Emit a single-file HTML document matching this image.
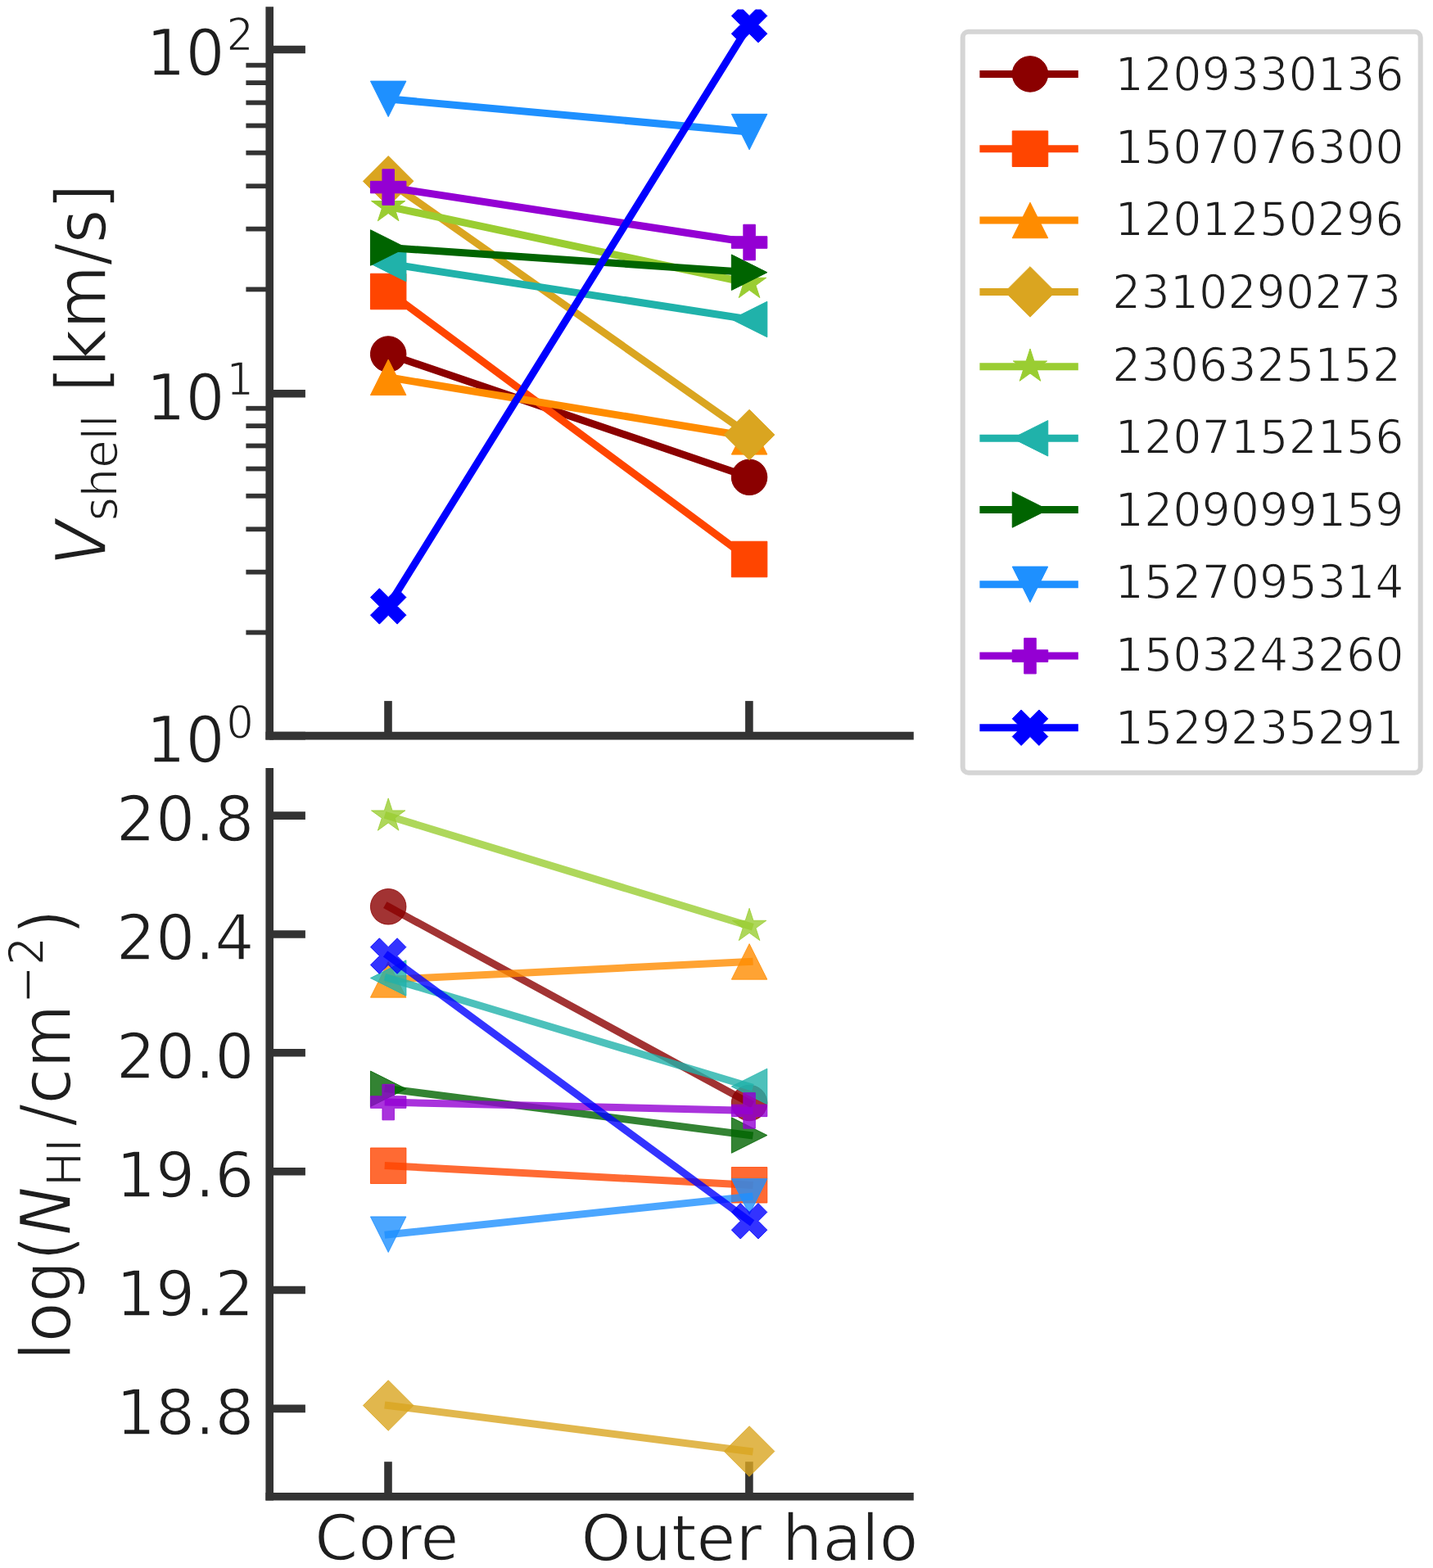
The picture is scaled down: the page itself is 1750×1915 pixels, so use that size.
<!DOCTYPE html>
<html><head><meta charset="utf-8"><title>V_shell and log N_HI: core vs outer halo</title>
<style>html,body{margin:0;padding:0;background:#fff;width:1750px;height:1915px;overflow:hidden}svg{display:block}</style>
</head><body>
<svg width="1750" height="1915" viewBox="0 0 1750 1915">
<rect x="0" y="0" width="1750" height="1915" fill="#ffffff"/>
<defs><clipPath id="c1"><rect x="329.2" y="11.5" width="781.8" height="887.1"/></clipPath><clipPath id="c2"><rect x="329.2" y="942.7" width="781.8" height="885"/></clipPath></defs>
<line x1="329.2" y1="60.5" x2="372.9" y2="60.5" stroke="#333333" stroke-width="9.6" stroke-linecap="butt"/>
<line x1="329.2" y1="480.7" x2="372.9" y2="480.7" stroke="#333333" stroke-width="9.6" stroke-linecap="butt"/>
<line x1="329.2" y1="898.6" x2="372.9" y2="898.6" stroke="#333333" stroke-width="9.6" stroke-linecap="butt"/>
<line x1="329.2" y1="772.453" x2="300.4" y2="772.453" stroke="#333333" stroke-width="5.8" stroke-linecap="butt"/>
<line x1="329.2" y1="698.662" x2="300.4" y2="698.662" stroke="#333333" stroke-width="5.8" stroke-linecap="butt"/>
<line x1="329.2" y1="646.307" x2="300.4" y2="646.307" stroke="#333333" stroke-width="5.8" stroke-linecap="butt"/>
<line x1="329.2" y1="605.697" x2="300.4" y2="605.697" stroke="#333333" stroke-width="5.8" stroke-linecap="butt"/>
<line x1="329.2" y1="572.516" x2="300.4" y2="572.516" stroke="#333333" stroke-width="5.8" stroke-linecap="butt"/>
<line x1="329.2" y1="544.462" x2="300.4" y2="544.462" stroke="#333333" stroke-width="5.8" stroke-linecap="butt"/>
<line x1="329.2" y1="520.16" x2="300.4" y2="520.16" stroke="#333333" stroke-width="5.8" stroke-linecap="butt"/>
<line x1="329.2" y1="498.725" x2="300.4" y2="498.725" stroke="#333333" stroke-width="5.8" stroke-linecap="butt"/>
<line x1="329.2" y1="353.403" x2="300.4" y2="353.403" stroke="#333333" stroke-width="5.8" stroke-linecap="butt"/>
<line x1="329.2" y1="279.612" x2="300.4" y2="279.612" stroke="#333333" stroke-width="5.8" stroke-linecap="butt"/>
<line x1="329.2" y1="227.257" x2="300.4" y2="227.257" stroke="#333333" stroke-width="5.8" stroke-linecap="butt"/>
<line x1="329.2" y1="186.647" x2="300.4" y2="186.647" stroke="#333333" stroke-width="5.8" stroke-linecap="butt"/>
<line x1="329.2" y1="153.466" x2="300.4" y2="153.466" stroke="#333333" stroke-width="5.8" stroke-linecap="butt"/>
<line x1="329.2" y1="125.412" x2="300.4" y2="125.412" stroke="#333333" stroke-width="5.8" stroke-linecap="butt"/>
<line x1="329.2" y1="101.11" x2="300.4" y2="101.11" stroke="#333333" stroke-width="5.8" stroke-linecap="butt"/>
<line x1="329.2" y1="79.675" x2="300.4" y2="79.675" stroke="#333333" stroke-width="5.8" stroke-linecap="butt"/>
<line x1="329.2" y1="996.1" x2="372.9" y2="996.1" stroke="#333333" stroke-width="9.6" stroke-linecap="butt"/>
<line x1="329.2" y1="1140.96" x2="372.9" y2="1140.96" stroke="#333333" stroke-width="9.6" stroke-linecap="butt"/>
<line x1="329.2" y1="1285.8" x2="372.9" y2="1285.8" stroke="#333333" stroke-width="9.6" stroke-linecap="butt"/>
<line x1="329.2" y1="1430.7" x2="372.9" y2="1430.7" stroke="#333333" stroke-width="9.6" stroke-linecap="butt"/>
<line x1="329.2" y1="1575.5" x2="372.9" y2="1575.5" stroke="#333333" stroke-width="9.6" stroke-linecap="butt"/>
<line x1="329.2" y1="1720.4" x2="372.9" y2="1720.4" stroke="#333333" stroke-width="9.6" stroke-linecap="butt"/>
<line x1="474" y1="898.6" x2="474" y2="856.1" stroke="#333333" stroke-width="9.6" stroke-linecap="butt"/>
<line x1="914.9" y1="898.6" x2="914.9" y2="856.1" stroke="#333333" stroke-width="9.6" stroke-linecap="butt"/>
<line x1="474" y1="1827.7" x2="474" y2="1785.2" stroke="#333333" stroke-width="9.6" stroke-linecap="butt"/>
<line x1="914.9" y1="1827.7" x2="914.9" y2="1785.2" stroke="#333333" stroke-width="9.6" stroke-linecap="butt"/>
<g clip-path="url(#c1)">
<line x1="474.2" y1="432.5" x2="915.1" y2="582.8" stroke="#8b0000" stroke-width="9" stroke-linecap="square" stroke-linejoin="round"/>
</g>
<g clip-path="url(#c1)">
<circle cx="474.2" cy="432.5" r="21.75" fill="#8b0000" stroke="#8b0000" stroke-width="1.0"/>
<circle cx="915.1" cy="582.8" r="21.75" fill="#8b0000" stroke="#8b0000" stroke-width="1.0"/>
</g>
<g clip-path="url(#c1)">
<line x1="474.2" y1="356" x2="915.1" y2="683" stroke="#ff4500" stroke-width="9" stroke-linecap="square" stroke-linejoin="round"/>
</g>
<g clip-path="url(#c1)">
<path d="M452.45 334.25 L495.95 334.25 L495.95 377.75 L452.45 377.75 Z" fill="#ff4500" stroke="#ff4500" stroke-width="1.0" stroke-linejoin="miter"/>
<path d="M893.35 661.25 L936.85 661.25 L936.85 704.75 L893.35 704.75 Z" fill="#ff4500" stroke="#ff4500" stroke-width="1.0" stroke-linejoin="miter"/>
</g>
<g clip-path="url(#c1)">
<line x1="474.2" y1="460.8" x2="915.1" y2="533.3" stroke="#ff8c00" stroke-width="9" stroke-linecap="square" stroke-linejoin="round"/>
</g>
<g clip-path="url(#c1)">
<path d="M474.2 439.05 L452.45 482.55 L495.95 482.55 Z" fill="#ff8c00" stroke="#ff8c00" stroke-width="1.0" stroke-linejoin="miter"/>
<path d="M915.1 511.55 L893.35 555.05 L936.85 555.05 Z" fill="#ff8c00" stroke="#ff8c00" stroke-width="1.0" stroke-linejoin="miter"/>
</g>
<g clip-path="url(#c1)">
<line x1="474.2" y1="221.3" x2="915.1" y2="531" stroke="#daa520" stroke-width="9" stroke-linecap="square" stroke-linejoin="round"/>
</g>
<g clip-path="url(#c1)">
<path d="M474.2 190.541 L504.959 221.3 L474.2 252.059 L443.441 221.3 Z" fill="#daa520" stroke="#daa520" stroke-width="1.0" stroke-linejoin="miter"/>
<path d="M915.1 500.241 L945.859 531 L915.1 561.759 L884.341 531 Z" fill="#daa520" stroke="#daa520" stroke-width="1.0" stroke-linejoin="miter"/>
</g>
<g clip-path="url(#c1)">
<line x1="474.2" y1="252.2" x2="915.1" y2="346" stroke="#9acd32" stroke-width="9" stroke-linecap="square" stroke-linejoin="round"/>
</g>
<g clip-path="url(#c1)">
<path d="M474.2 230.45 L469.317 245.479 L453.515 245.479 L466.299 254.767 L461.416 269.796 L474.2 260.508 L486.984 269.796 L482.101 254.767 L494.885 245.479 L479.083 245.479 Z" fill="#9acd32" stroke="#9acd32" stroke-width="1.0" stroke-linejoin="bevel"/>
<path d="M915.1 324.25 L910.217 339.279 L894.415 339.279 L907.199 348.567 L902.316 363.596 L915.1 354.308 L927.884 363.596 L923.001 348.567 L935.785 339.279 L919.983 339.279 Z" fill="#9acd32" stroke="#9acd32" stroke-width="1.0" stroke-linejoin="bevel"/>
</g>
<g clip-path="url(#c1)">
<line x1="474.2" y1="322" x2="915.1" y2="390" stroke="#20b2aa" stroke-width="9" stroke-linecap="square" stroke-linejoin="round"/>
</g>
<g clip-path="url(#c1)">
<path d="M452.45 322 L495.95 300.25 L495.95 343.75 Z" fill="#20b2aa" stroke="#20b2aa" stroke-width="1.0" stroke-linejoin="miter"/>
<path d="M893.35 390 L936.85 368.25 L936.85 411.75 Z" fill="#20b2aa" stroke="#20b2aa" stroke-width="1.0" stroke-linejoin="miter"/>
</g>
<g clip-path="url(#c1)">
<line x1="474.2" y1="302.5" x2="915.1" y2="332.7" stroke="#006400" stroke-width="9" stroke-linecap="square" stroke-linejoin="round"/>
</g>
<g clip-path="url(#c1)">
<path d="M495.95 302.5 L452.45 280.75 L452.45 324.25 Z" fill="#006400" stroke="#006400" stroke-width="1.0" stroke-linejoin="miter"/>
<path d="M936.85 332.7 L893.35 310.95 L893.35 354.45 Z" fill="#006400" stroke="#006400" stroke-width="1.0" stroke-linejoin="miter"/>
</g>
<g clip-path="url(#c1)">
<line x1="474.2" y1="120.85" x2="915.1" y2="161.1" stroke="#1e90ff" stroke-width="9" stroke-linecap="square" stroke-linejoin="round"/>
</g>
<g clip-path="url(#c1)">
<path d="M474.2 142.6 L452.45 99.1 L495.95 99.1 Z" fill="#1e90ff" stroke="#1e90ff" stroke-width="1.0" stroke-linejoin="miter"/>
<path d="M915.1 182.85 L893.35 139.35 L936.85 139.35 Z" fill="#1e90ff" stroke="#1e90ff" stroke-width="1.0" stroke-linejoin="miter"/>
</g>
<g clip-path="url(#c1)">
<line x1="474.2" y1="228.6" x2="915.1" y2="296" stroke="#9400d3" stroke-width="9" stroke-linecap="square" stroke-linejoin="round"/>
</g>
<g clip-path="url(#c1)">
<path d="M466.95 206.85 L481.45 206.85 L481.45 221.35 L495.95 221.35 L495.95 235.85 L481.45 235.85 L481.45 250.35 L466.95 250.35 L466.95 235.85 L452.45 235.85 L452.45 221.35 L466.95 221.35 Z" fill="#9400d3" stroke="#9400d3" stroke-width="1.0" stroke-linejoin="miter"/>
<path d="M907.85 274.25 L922.35 274.25 L922.35 288.75 L936.85 288.75 L936.85 303.25 L922.35 303.25 L922.35 317.75 L907.85 317.75 L907.85 303.25 L893.35 303.25 L893.35 288.75 L907.85 288.75 Z" fill="#9400d3" stroke="#9400d3" stroke-width="1.0" stroke-linejoin="miter"/>
</g>
<g clip-path="url(#c1)">
<line x1="474.2" y1="740.4" x2="915.1" y2="30.3" stroke="#0000ff" stroke-width="9" stroke-linecap="square" stroke-linejoin="round"/>
</g>
<g clip-path="url(#c1)">
<path d="M463.325 718.65 L474.2 729.525 L485.075 718.65 L495.95 729.525 L485.075 740.4 L495.95 751.275 L485.075 762.15 L474.2 751.275 L463.325 762.15 L452.45 751.275 L463.325 740.4 L452.45 729.525 Z" fill="#0000ff" stroke="#0000ff" stroke-width="1.0" stroke-linejoin="miter"/>
<path d="M904.225 8.55 L915.1 19.425 L925.975 8.55 L936.85 19.425 L925.975 30.3 L936.85 41.175 L925.975 52.05 L915.1 41.175 L904.225 52.05 L893.35 41.175 L904.225 30.3 L893.35 19.425 Z" fill="#0000ff" stroke="#0000ff" stroke-width="1.0" stroke-linejoin="miter"/>
</g>
<g clip-path="url(#c2)">
<line x1="474.2" y1="1107.3" x2="915.1" y2="1347" stroke="#8b0000" stroke-width="9" stroke-linecap="square" stroke-opacity="0.8" stroke-linejoin="round"/>
</g>
<g clip-path="url(#c2)">
<circle cx="474.2" cy="1107.3" r="21.75" fill="#8b0000" stroke="#8b0000" stroke-width="1.0" fill-opacity="0.8" stroke-opacity="0.8"/>
<circle cx="915.1" cy="1347" r="21.75" fill="#8b0000" stroke="#8b0000" stroke-width="1.0" fill-opacity="0.8" stroke-opacity="0.8"/>
</g>
<g clip-path="url(#c2)">
<line x1="474.2" y1="1423.7" x2="915.1" y2="1447.3" stroke="#ff4500" stroke-width="9" stroke-linecap="square" stroke-opacity="0.8" stroke-linejoin="round"/>
</g>
<g clip-path="url(#c2)">
<path d="M452.45 1401.95 L495.95 1401.95 L495.95 1445.45 L452.45 1445.45 Z" fill="#ff4500" stroke="#ff4500" stroke-width="1.0" stroke-linejoin="miter" fill-opacity="0.8" stroke-opacity="0.8"/>
<path d="M893.35 1425.55 L936.85 1425.55 L936.85 1469.05 L893.35 1469.05 Z" fill="#ff4500" stroke="#ff4500" stroke-width="1.0" stroke-linejoin="miter" fill-opacity="0.8" stroke-opacity="0.8"/>
</g>
<g clip-path="url(#c2)">
<line x1="474.2" y1="1196.4" x2="915.1" y2="1174.4" stroke="#ff8c00" stroke-width="9" stroke-linecap="square" stroke-opacity="0.8" stroke-linejoin="round"/>
</g>
<g clip-path="url(#c2)">
<path d="M474.2 1174.65 L452.45 1218.15 L495.95 1218.15 Z" fill="#ff8c00" stroke="#ff8c00" stroke-width="1.0" stroke-linejoin="miter" fill-opacity="0.8" stroke-opacity="0.8"/>
<path d="M915.1 1152.65 L893.35 1196.15 L936.85 1196.15 Z" fill="#ff8c00" stroke="#ff8c00" stroke-width="1.0" stroke-linejoin="miter" fill-opacity="0.8" stroke-opacity="0.8"/>
</g>
<g clip-path="url(#c2)">
<line x1="474.2" y1="1716.5" x2="915.1" y2="1772.5" stroke="#daa520" stroke-width="9" stroke-linecap="square" stroke-opacity="0.8" stroke-linejoin="round"/>
</g>
<g clip-path="url(#c2)">
<path d="M474.2 1685.741 L504.959 1716.5 L474.2 1747.259 L443.441 1716.5 Z" fill="#daa520" stroke="#daa520" stroke-width="1.0" stroke-linejoin="miter" fill-opacity="0.8" stroke-opacity="0.8"/>
<path d="M915.1 1741.741 L945.859 1772.5 L915.1 1803.259 L884.341 1772.5 Z" fill="#daa520" stroke="#daa520" stroke-width="1.0" stroke-linejoin="miter" fill-opacity="0.8" stroke-opacity="0.8"/>
</g>
<g clip-path="url(#c2)">
<line x1="474.2" y1="996.6" x2="915.1" y2="1131" stroke="#9acd32" stroke-width="9" stroke-linecap="square" stroke-opacity="0.8" stroke-linejoin="round"/>
</g>
<g clip-path="url(#c2)">
<path d="M474.2 974.85 L469.317 989.879 L453.515 989.879 L466.299 999.167 L461.416 1014.196 L474.2 1004.908 L486.984 1014.196 L482.101 999.167 L494.885 989.879 L479.083 989.879 Z" fill="#9acd32" stroke="#9acd32" stroke-width="1.0" stroke-linejoin="bevel" fill-opacity="0.8" stroke-opacity="0.8"/>
<path d="M915.1 1109.25 L910.217 1124.279 L894.415 1124.279 L907.199 1133.567 L902.316 1148.596 L915.1 1139.308 L927.884 1148.596 L923.001 1133.567 L935.785 1124.279 L919.983 1124.279 Z" fill="#9acd32" stroke="#9acd32" stroke-width="1.0" stroke-linejoin="bevel" fill-opacity="0.8" stroke-opacity="0.8"/>
</g>
<g clip-path="url(#c2)">
<line x1="474.2" y1="1194.5" x2="915.1" y2="1326.9" stroke="#20b2aa" stroke-width="9" stroke-linecap="square" stroke-opacity="0.8" stroke-linejoin="round"/>
</g>
<g clip-path="url(#c2)">
<path d="M452.45 1194.5 L495.95 1172.75 L495.95 1216.25 Z" fill="#20b2aa" stroke="#20b2aa" stroke-width="1.0" stroke-linejoin="miter" fill-opacity="0.8" stroke-opacity="0.8"/>
<path d="M893.35 1326.9 L936.85 1305.15 L936.85 1348.65 Z" fill="#20b2aa" stroke="#20b2aa" stroke-width="1.0" stroke-linejoin="miter" fill-opacity="0.8" stroke-opacity="0.8"/>
</g>
<g clip-path="url(#c2)">
<line x1="474.2" y1="1329.8" x2="915.1" y2="1386.5" stroke="#006400" stroke-width="9" stroke-linecap="square" stroke-opacity="0.8" stroke-linejoin="round"/>
</g>
<g clip-path="url(#c2)">
<path d="M495.95 1329.8 L452.45 1308.05 L452.45 1351.55 Z" fill="#006400" stroke="#006400" stroke-width="1.0" stroke-linejoin="miter" fill-opacity="0.8" stroke-opacity="0.8"/>
<path d="M936.85 1386.5 L893.35 1364.75 L893.35 1408.25 Z" fill="#006400" stroke="#006400" stroke-width="1.0" stroke-linejoin="miter" fill-opacity="0.8" stroke-opacity="0.8"/>
</g>
<g clip-path="url(#c2)">
<line x1="474.2" y1="1507.7" x2="915.1" y2="1461.4" stroke="#1e90ff" stroke-width="9" stroke-linecap="square" stroke-opacity="0.8" stroke-linejoin="round"/>
</g>
<g clip-path="url(#c2)">
<path d="M474.2 1529.45 L452.45 1485.95 L495.95 1485.95 Z" fill="#1e90ff" stroke="#1e90ff" stroke-width="1.0" stroke-linejoin="miter" fill-opacity="0.8" stroke-opacity="0.8"/>
<path d="M915.1 1483.15 L893.35 1439.65 L936.85 1439.65 Z" fill="#1e90ff" stroke="#1e90ff" stroke-width="1.0" stroke-linejoin="miter" fill-opacity="0.8" stroke-opacity="0.8"/>
</g>
<g clip-path="url(#c2)">
<line x1="474.2" y1="1346.1" x2="915.1" y2="1356.4" stroke="#9400d3" stroke-width="9" stroke-linecap="square" stroke-opacity="0.8" stroke-linejoin="round"/>
</g>
<g clip-path="url(#c2)">
<path d="M466.95 1324.35 L481.45 1324.35 L481.45 1338.85 L495.95 1338.85 L495.95 1353.35 L481.45 1353.35 L481.45 1367.85 L466.95 1367.85 L466.95 1353.35 L452.45 1353.35 L452.45 1338.85 L466.95 1338.85 Z" fill="#9400d3" stroke="#9400d3" stroke-width="1.0" stroke-linejoin="miter" fill-opacity="0.8" stroke-opacity="0.8"/>
<path d="M907.85 1334.65 L922.35 1334.65 L922.35 1349.15 L936.85 1349.15 L936.85 1363.65 L922.35 1363.65 L922.35 1378.15 L907.85 1378.15 L907.85 1363.65 L893.35 1363.65 L893.35 1349.15 L907.85 1349.15 Z" fill="#9400d3" stroke="#9400d3" stroke-width="1.0" stroke-linejoin="miter" fill-opacity="0.8" stroke-opacity="0.8"/>
</g>
<g clip-path="url(#c2)">
<line x1="474.2" y1="1167.5" x2="915.1" y2="1491.3" stroke="#0000ff" stroke-width="9" stroke-linecap="square" stroke-opacity="0.8" stroke-linejoin="round"/>
</g>
<g clip-path="url(#c2)">
<path d="M463.325 1145.75 L474.2 1156.625 L485.075 1145.75 L495.95 1156.625 L485.075 1167.5 L495.95 1178.375 L485.075 1189.25 L474.2 1178.375 L463.325 1189.25 L452.45 1178.375 L463.325 1167.5 L452.45 1156.625 Z" fill="#0000ff" stroke="#0000ff" stroke-width="1.0" stroke-linejoin="miter" fill-opacity="0.8" stroke-opacity="0.8"/>
<path d="M904.225 1469.55 L915.1 1480.425 L925.975 1469.55 L936.85 1480.425 L925.975 1491.3 L936.85 1502.175 L925.975 1513.05 L915.1 1502.175 L904.225 1513.05 L893.35 1502.175 L904.225 1491.3 L893.35 1480.425 Z" fill="#0000ff" stroke="#0000ff" stroke-width="1.0" stroke-linejoin="miter" fill-opacity="0.8" stroke-opacity="0.8"/>
</g>
<line x1="329.2" y1="13" x2="329.2" y2="898.6" stroke="#333333" stroke-width="9.6" stroke-linecap="square"/>
<line x1="329.2" y1="898.6" x2="1111" y2="898.6" stroke="#333333" stroke-width="9.6" stroke-linecap="square"/>
<line x1="329.2" y1="942.7" x2="329.2" y2="1827.7" stroke="#333333" stroke-width="9.6" stroke-linecap="square"/>
<line x1="329.2" y1="1827.7" x2="1111" y2="1827.7" stroke="#333333" stroke-width="9.6" stroke-linecap="square"/>
<rect x="1175.7" y="38.7" width="559" height="905.1" rx="7" ry="7" fill="#ffffff" stroke="#d5d5d5" stroke-width="6"/>
<line x1="1200.9" y1="90.4" x2="1312.3" y2="90.4" stroke="#8b0000" stroke-width="9" stroke-linecap="square"/>
<circle cx="1258" cy="90.4" r="21.75" fill="#8b0000" stroke="#8b0000" stroke-width="1.0"/>
<line x1="1200.9" y1="181.7" x2="1312.3" y2="181.7" stroke="#ff4500" stroke-width="9" stroke-linecap="square"/>
<path d="M1236.25 159.95 L1279.75 159.95 L1279.75 203.45 L1236.25 203.45 Z" fill="#ff4500" stroke="#ff4500" stroke-width="1.0" stroke-linejoin="miter"/>
<line x1="1200.9" y1="269" x2="1312.3" y2="269" stroke="#ff8c00" stroke-width="9" stroke-linecap="square"/>
<path d="M1258 247.25 L1236.25 290.75 L1279.75 290.75 Z" fill="#ff8c00" stroke="#ff8c00" stroke-width="1.0" stroke-linejoin="miter"/>
<line x1="1200.9" y1="356.4" x2="1312.3" y2="356.4" stroke="#daa520" stroke-width="9" stroke-linecap="square"/>
<path d="M1258 325.641 L1288.759 356.4 L1258 387.159 L1227.241 356.4 Z" fill="#daa520" stroke="#daa520" stroke-width="1.0" stroke-linejoin="miter"/>
<line x1="1200.9" y1="447.7" x2="1312.3" y2="447.7" stroke="#9acd32" stroke-width="9" stroke-linecap="square"/>
<path d="M1258 425.95 L1253.117 440.979 L1237.315 440.979 L1250.099 450.267 L1245.216 465.296 L1258 456.008 L1270.784 465.296 L1265.901 450.267 L1278.685 440.979 L1262.883 440.979 Z" fill="#9acd32" stroke="#9acd32" stroke-width="1.0" stroke-linejoin="bevel"/>
<line x1="1200.9" y1="535.3" x2="1312.3" y2="535.3" stroke="#20b2aa" stroke-width="9" stroke-linecap="square"/>
<path d="M1236.25 535.3 L1279.75 513.55 L1279.75 557.05 Z" fill="#20b2aa" stroke="#20b2aa" stroke-width="1.0" stroke-linejoin="miter"/>
<line x1="1200.9" y1="622.5" x2="1312.3" y2="622.5" stroke="#006400" stroke-width="9" stroke-linecap="square"/>
<path d="M1279.75 622.5 L1236.25 600.75 L1236.25 644.25 Z" fill="#006400" stroke="#006400" stroke-width="1.0" stroke-linejoin="miter"/>
<line x1="1200.9" y1="713.8" x2="1312.3" y2="713.8" stroke="#1e90ff" stroke-width="9" stroke-linecap="square"/>
<path d="M1258 735.55 L1236.25 692.05 L1279.75 692.05 Z" fill="#1e90ff" stroke="#1e90ff" stroke-width="1.0" stroke-linejoin="miter"/>
<line x1="1200.9" y1="801.1" x2="1312.3" y2="801.1" stroke="#9400d3" stroke-width="9" stroke-linecap="square"/>
<path d="M1250.75 779.35 L1265.25 779.35 L1265.25 793.85 L1279.75 793.85 L1279.75 808.35 L1265.25 808.35 L1265.25 822.85 L1250.75 822.85 L1250.75 808.35 L1236.25 808.35 L1236.25 793.85 L1250.75 793.85 Z" fill="#9400d3" stroke="#9400d3" stroke-width="1.0" stroke-linejoin="miter"/>
<line x1="1200.9" y1="888.7" x2="1312.3" y2="888.7" stroke="#0000ff" stroke-width="9" stroke-linecap="square"/>
<path d="M1247.125 866.95 L1258 877.825 L1268.875 866.95 L1279.75 877.825 L1268.875 888.7 L1279.75 899.575 L1268.875 910.45 L1258 899.575 L1247.125 910.45 L1236.25 899.575 L1247.125 888.7 L1236.25 877.825 Z" fill="#0000ff" stroke="#0000ff" stroke-width="1.0" stroke-linejoin="miter"/>
<text transform="translate(1361.6 111) scale(0.965 1)" text-anchor="start" fill="#1e1e1e" style="font-family:'DejaVu Sans','Liberation Sans',sans-serif;font-size:57.5px;stroke:#ffffff;stroke-width:1.5px">1209330136</text>
<text transform="translate(1361.6 199.64) scale(0.965 1)" text-anchor="start" fill="#1e1e1e" style="font-family:'DejaVu Sans','Liberation Sans',sans-serif;font-size:57.5px;stroke:#ffffff;stroke-width:1.5px">1507076300</text>
<text transform="translate(1361.6 288.28) scale(0.965 1)" text-anchor="start" fill="#1e1e1e" style="font-family:'DejaVu Sans','Liberation Sans',sans-serif;font-size:57.5px;stroke:#ffffff;stroke-width:1.5px">1201250296</text>
<text transform="translate(1358.1 376.92) scale(0.965 1)" text-anchor="start" fill="#1e1e1e" style="font-family:'DejaVu Sans','Liberation Sans',sans-serif;font-size:57.5px;stroke:#ffffff;stroke-width:1.5px">2310290273</text>
<text transform="translate(1358.1 465.56) scale(0.965 1)" text-anchor="start" fill="#1e1e1e" style="font-family:'DejaVu Sans','Liberation Sans',sans-serif;font-size:57.5px;stroke:#ffffff;stroke-width:1.5px">2306325152</text>
<text transform="translate(1361.6 554.2) scale(0.965 1)" text-anchor="start" fill="#1e1e1e" style="font-family:'DejaVu Sans','Liberation Sans',sans-serif;font-size:57.5px;stroke:#ffffff;stroke-width:1.5px">1207152156</text>
<text transform="translate(1361.6 642.84) scale(0.965 1)" text-anchor="start" fill="#1e1e1e" style="font-family:'DejaVu Sans','Liberation Sans',sans-serif;font-size:57.5px;stroke:#ffffff;stroke-width:1.5px">1209099159</text>
<text transform="translate(1361.6 731.48) scale(0.965 1)" text-anchor="start" fill="#1e1e1e" style="font-family:'DejaVu Sans','Liberation Sans',sans-serif;font-size:57.5px;stroke:#ffffff;stroke-width:1.5px">1527095314</text>
<text transform="translate(1361.6 820.12) scale(0.965 1)" text-anchor="start" fill="#1e1e1e" style="font-family:'DejaVu Sans','Liberation Sans',sans-serif;font-size:57.5px;stroke:#ffffff;stroke-width:1.5px">1503243260</text>
<text transform="translate(1361.6 908.76) scale(0.965 1)" text-anchor="start" fill="#1e1e1e" style="font-family:'DejaVu Sans','Liberation Sans',sans-serif;font-size:57.5px;stroke:#ffffff;stroke-width:1.5px">1529235291</text>
<text transform="translate(178.5 91.6) scale(0.975 1)" text-anchor="start" fill="#1e1e1e" style="font-family:'DejaVu Sans','Liberation Sans',sans-serif;font-size:77.5px;stroke:#ffffff;stroke-width:1.5px">10</text>
<text transform="translate(276.373 61.339) scale(0.975 1)" text-anchor="start" fill="#1e1e1e" style="font-family:'DejaVu Sans','Liberation Sans',sans-serif;font-size:54.25px;stroke:#ffffff;stroke-width:1.5px">2</text>
<text transform="translate(178.5 512.5) scale(0.975 1)" text-anchor="start" fill="#1e1e1e" style="font-family:'DejaVu Sans','Liberation Sans',sans-serif;font-size:77.5px;stroke:#ffffff;stroke-width:1.5px">10</text>
<text transform="translate(276.373 482.239) scale(0.975 1)" text-anchor="start" fill="#1e1e1e" style="font-family:'DejaVu Sans','Liberation Sans',sans-serif;font-size:54.25px;stroke:#ffffff;stroke-width:1.5px">1</text>
<text transform="translate(178.5 930.9) scale(0.975 1)" text-anchor="start" fill="#1e1e1e" style="font-family:'DejaVu Sans','Liberation Sans',sans-serif;font-size:77.5px;stroke:#ffffff;stroke-width:1.5px">10</text>
<text transform="translate(276.373 900.639) scale(0.975 1)" text-anchor="start" fill="#1e1e1e" style="font-family:'DejaVu Sans','Liberation Sans',sans-serif;font-size:54.25px;stroke:#ffffff;stroke-width:1.5px">0</text>
<text transform="translate(310.5 1027.3) scale(0.99 1)" text-anchor="end" fill="#1e1e1e" style="font-family:'DejaVu Sans','Liberation Sans',sans-serif;font-size:76.6px;stroke:#ffffff;stroke-width:1.5px">20.8</text>
<text transform="translate(310.5 1172.16) scale(0.99 1)" text-anchor="end" fill="#1e1e1e" style="font-family:'DejaVu Sans','Liberation Sans',sans-serif;font-size:76.6px;stroke:#ffffff;stroke-width:1.5px">20.4</text>
<text transform="translate(310.5 1317) scale(0.99 1)" text-anchor="end" fill="#1e1e1e" style="font-family:'DejaVu Sans','Liberation Sans',sans-serif;font-size:76.6px;stroke:#ffffff;stroke-width:1.5px">20.0</text>
<text transform="translate(310.5 1461.9) scale(0.99 1)" text-anchor="end" fill="#1e1e1e" style="font-family:'DejaVu Sans','Liberation Sans',sans-serif;font-size:76.6px;stroke:#ffffff;stroke-width:1.5px">19.6</text>
<text transform="translate(310.5 1606.7) scale(0.99 1)" text-anchor="end" fill="#1e1e1e" style="font-family:'DejaVu Sans','Liberation Sans',sans-serif;font-size:76.6px;stroke:#ffffff;stroke-width:1.5px">19.2</text>
<text transform="translate(310.5 1751.6) scale(0.99 1)" text-anchor="end" fill="#1e1e1e" style="font-family:'DejaVu Sans','Liberation Sans',sans-serif;font-size:76.6px;stroke:#ffffff;stroke-width:1.5px">18.8</text>
<text transform="translate(472.3 1905) scale(1 1)" text-anchor="middle" fill="#1e1e1e" style="font-family:'DejaVu Sans','Liberation Sans',sans-serif;font-size:76px;stroke:#ffffff;stroke-width:1.5px">Core</text>
<text transform="translate(915.4 1905.6) scale(1 1)" text-anchor="middle" fill="#1e1e1e" style="font-family:'DejaVu Sans','Liberation Sans',sans-serif;font-size:77.8px;stroke:#ffffff;stroke-width:1.5px">Outer halo</text>
<text transform="translate(129 690.817) rotate(-90) scale(0.938 1)" text-anchor="start" fill="#1e1e1e" style="font-family:'DejaVu Sans','Liberation Sans',sans-serif;font-size:85px;stroke:#ffffff;stroke-width:1.5px;font-style:oblique">V</text>
<text transform="translate(142.931 636.293) rotate(-90) scale(0.938 1)" text-anchor="start" fill="#1e1e1e" style="font-family:'DejaVu Sans','Liberation Sans',sans-serif;font-size:59.5px;stroke:#ffffff;stroke-width:1.5px">shell</text>
<text transform="translate(129 479.02) rotate(-90) scale(0.938 1)" text-anchor="start" fill="#1e1e1e" style="font-family:'DejaVu Sans','Liberation Sans',sans-serif;font-size:85px;stroke:#ffffff;stroke-width:1.5px">[km/s]</text>
<text transform="translate(85.7 1661.503) rotate(-90) scale(0.939 1)" text-anchor="start" fill="#1e1e1e" style="font-family:'DejaVu Sans','Liberation Sans',sans-serif;font-size:85px;stroke:#ffffff;stroke-width:1.5px">log(</text>
<text transform="translate(85.7 1508.693) rotate(-90) scale(0.939 1)" text-anchor="start" fill="#1e1e1e" style="font-family:'DejaVu Sans','Liberation Sans',sans-serif;font-size:85px;stroke:#ffffff;stroke-width:1.5px;font-style:oblique">N</text>
<text transform="translate(98.994 1448.987) rotate(-90) scale(0.939 1)" text-anchor="start" fill="#1e1e1e" style="font-family:'DejaVu Sans','Liberation Sans',sans-serif;font-size:59.5px;stroke:#ffffff;stroke-width:1.5px">HI</text>
<text transform="translate(85.7 1375.357) rotate(-90) scale(0.939 1)" text-anchor="start" fill="#1e1e1e" style="font-family:'DejaVu Sans','Liberation Sans',sans-serif;font-size:85px;stroke:#ffffff;stroke-width:1.5px">/cm</text>
<text transform="translate(52.51 1226.07) rotate(-90) scale(0.939 1)" text-anchor="start" fill="#1e1e1e" style="font-family:'DejaVu Sans','Liberation Sans',sans-serif;font-size:59.5px;stroke:#ffffff;stroke-width:1.5px">−2</text>
<text transform="translate(85.7 1141.528) rotate(-90) scale(0.939 1)" text-anchor="start" fill="#1e1e1e" style="font-family:'DejaVu Sans','Liberation Sans',sans-serif;font-size:85px;stroke:#ffffff;stroke-width:1.5px">)</text>
</svg>
</body></html>
